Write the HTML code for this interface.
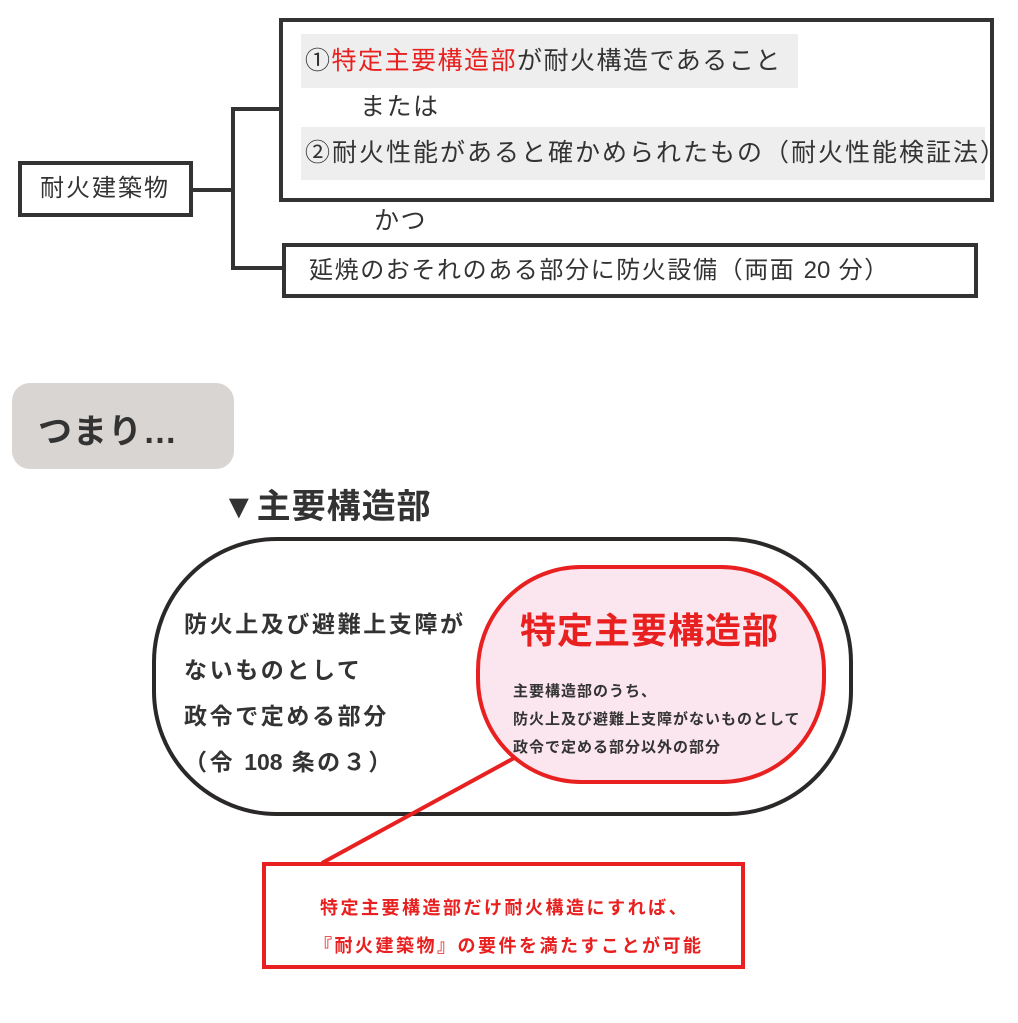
<!DOCTYPE html>
<html><head><meta charset="utf-8">
<style>
body{margin:0;width:1018px;height:1023px;background:#fff;position:relative;overflow:hidden;font-family:"Liberation Sans","Noto Sans CJK JP",sans-serif;color:#333}
div{position:absolute;box-sizing:border-box}
.t{white-space:nowrap;line-height:1}
.b{font-weight:bold}
.n{letter-spacing:0}
</style></head><body>
<div style="left:18px;top:161px;width:175px;height:56px;border:4px solid #333"></div>
<div class="t" style="left:40px;top:177px;font-size:24px;letter-spacing:2px">耐火建築物</div>
<div style="left:192px;top:188px;width:43px;height:4px;background:#333"></div>
<div style="left:231px;top:107px;width:4px;height:163px;background:#333"></div>
<div style="left:231px;top:107px;width:50px;height:4px;background:#333"></div>
<div style="left:231px;top:266px;width:53px;height:4px;background:#333"></div>

<div style="left:279px;top:18px;width:715px;height:184px;border:4px solid #333"></div>
<div style="left:301px;top:34px;width:497px;height:54px;background:#eeeeee"></div>
<div class="t" style="left:305px;top:49px;font-size:25px;letter-spacing:1.5px"><span>①</span><span style="color:#e8201f">特定主要構造部</span>が耐火構造であること</div>
<div class="t" style="left:360px;top:95px;font-size:25px;letter-spacing:1.5px">または</div>
<div style="left:301px;top:127px;width:684px;height:53px;background:#eeeeee"></div>
<div class="t" style="left:305px;top:141px;font-size:25px;letter-spacing:2px">②耐火性能があると確かめられたもの（耐火性能検証法）</div>
<div class="t" style="left:374px;top:209px;font-size:25px;letter-spacing:1.5px">かつ</div>
<div style="left:282px;top:243px;width:696px;height:55px;border:4px solid #333"></div>
<div class="t" style="left:309px;top:259px;font-size:24px;letter-spacing:1.6px">延焼のおそれのある部分に防火設備（両面 <span class="n">20</span> 分）</div>

<div style="left:12px;top:383px;width:222px;height:86px;background:#d8d5d3;border-radius:18px"></div>
<div class="t b" style="left:38px;top:415px;font-size:34px;letter-spacing:1px">つまり…</div>
<div class="t b" style="left:222px;top:490px;font-size:34px;letter-spacing:1px">▼主要構造部</div>

<div style="left:152px;top:537px;width:701px;height:279px;border:4px solid #2b2828;border-radius:125px"></div>
<div class="t b" style="left:184px;top:601px;font-size:23px;letter-spacing:2.6px;line-height:46px">防火上及び避難上支障が<br>ないものとして<br>政令で定める部分<br>（令 <span class="n">108</span> 条の３）</div>

<svg style="position:absolute;left:0;top:0" width="1018" height="1023"><line x1="516" y1="757" x2="322" y2="863" stroke="#e8201f" stroke-width="4"/></svg>
<div style="left:476px;top:565px;width:350px;height:219px;border:4px solid #e8201f;border-radius:105px;background:#fbe6ef"></div>
<div class="t b" style="left:520px;top:613px;font-size:36px;color:#e8201f;letter-spacing:1px">特定主要構造部</div>
<div class="t b" style="left:513px;top:678px;font-size:15px;letter-spacing:1px;line-height:28px">主要構造部のうち、<br>防火上及び避難上支障がないものとして<br>政令で定める部分以外の部分</div>

<div style="left:262px;top:862px;width:483px;height:107px;border:4px solid #e8201f;background:#fff"></div>
<div class="t b" style="left:320px;top:889px;font-size:18px;letter-spacing:2.5px;color:#e8201f;line-height:38px">特定主要構造部だけ耐火構造にすれば、<br><span style="margin-left:-6px">『</span>耐火建築物』の要件を満たすことが可能</div>
</body></html>
